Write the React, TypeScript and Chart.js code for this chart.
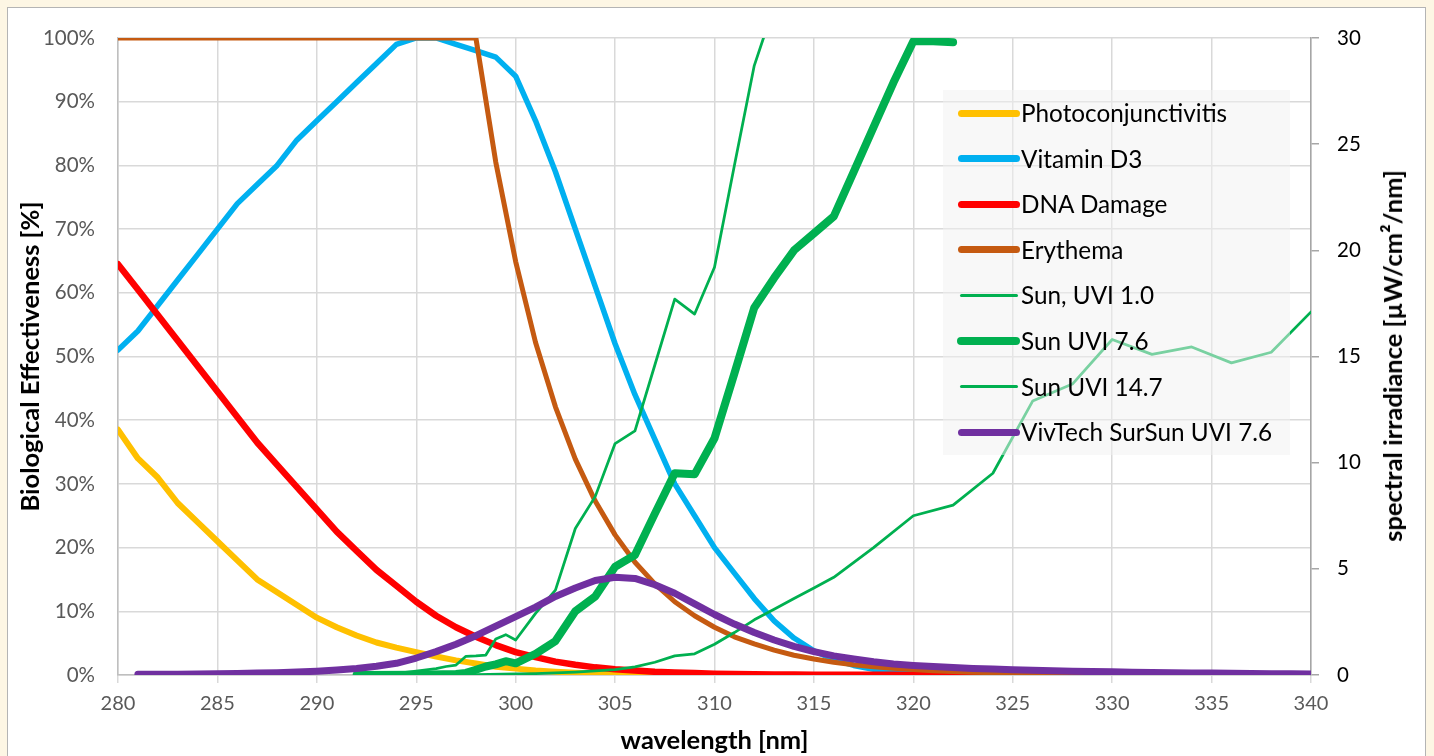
import { useEffect, useRef } from 'react';
import { Chart, registerables } from 'chart.js';

Chart.register(...registerables);

// ---------- data ----------
const wavelengths = [
  280, 281, 282, 283, 284, 285, 286, 287, 288, 289,
  290, 291, 292, 293, 294, 295, 296, 297, 298, 299,
  300, 301, 302, 303, 304, 305, 306, 307, 308, 309,
  310, 311, 312, 313, 314, 315, 316, 317, 318, 319,
  320, 321, 322, 323, 324, 325, 326, 327, 328, 329,
  330, 331, 332, 333, 334, 335, 336, 337, 338, 339, 340,
];

// left axis, %
const photoconjunctivitis = [
  38.5, 34, 31, 27, 24, 21, 18, 15, 13, 11,
  9, 7.5, 6.2, 5.1, 4.3, 3.6, 2.9, 2.3, 1.8, 1.3,
  1.0, 0.7, 0.5, 0.35, 0.25, 0.15, 0.1, 0.07, 0.05, 0.03,
  0.02, 0.01, 0.01, 0, 0, 0, 0, 0, 0, 0,
  0, 0, 0, 0, 0, 0, 0, 0, 0, 0,
  0, 0, 0, 0, 0, 0, 0, 0, 0, 0, 0,
];
const vitaminD3 = [
  51, 54, 58, 62, 66, 70, 74, 77, 80, 84,
  87, 90, 93, 96, 99, 100, 100, 99, 98, 97,
  94, 87, 79, 70, 61, 52, 44, 37, 30, 25,
  20, 16, 12, 8.5, 5.8, 3.8, 2.4, 1.5, 0.9, 0.5,
  0.3, 0.15, 0.1, 0.05, 0, 0, 0, 0, 0, 0,
  0, 0, 0, 0, 0, 0, 0, 0, 0, 0, 0,
];
const dnaDamage = [
  64.5, 60.5, 56.5, 52.5, 48.5, 44.5, 40.5, 36.5, 33, 29.5,
  26, 22.5, 19.5, 16.5, 14, 11.5, 9.3, 7.5, 6, 4.7,
  3.6, 2.8, 2.1, 1.6, 1.2, 0.9, 0.7, 0.5, 0.4, 0.3,
  0.2, 0.15, 0.1, 0.08, 0.06, 0.05, 0.04, 0.03, 0.02, 0.02,
  0.01, 0.01, 0.01, 0, 0, 0, 0, 0, 0, 0,
  0, 0, 0, 0, 0, 0, 0, 0, 0, 0, 0,
];
const erythema = [
  100, 100, 100, 100, 100, 100, 100, 100, 100, 100,
  100, 100, 100, 100, 100, 100, 100, 100, 100, 80.5,
  64.9, 52.2, 42.1, 33.9, 27.3, 22.0, 17.7, 14.3, 11.5, 9.3,
  7.5, 6.0, 4.9, 3.9, 3.1, 2.5, 2.0, 1.6, 1.3, 1.05,
  0.85, 0.68, 0.55, 0.44, 0.36, 0.29, 0.23, 0.19, 0.15, 0.12,
  0.1, 0.09, 0.08, 0.07, 0.06, 0.05, 0.05, 0.04, 0.04, 0.03, 0.03,
];

// right axis, µW/cm²/nm
const vivTech = [
  null, 0.03, 0.03, 0.04, 0.05, 0.06, 0.07, 0.09, 0.11, 0.14,
  0.18, 0.24, 0.31, 0.41, 0.55, 0.8, 1.1, 1.45, 1.85, 2.3,
  2.75, 3.2, 3.7, 4.1, 4.45, 4.6, 4.55, 4.25, 3.85, 3.35,
  2.85, 2.4, 2.0, 1.65, 1.35, 1.1, 0.9, 0.75, 0.62, 0.52,
  0.45, 0.4, 0.35, 0.31, 0.28, 0.25, 0.22, 0.2, 0.18, 0.16,
  0.15, 0.13, 0.12, 0.11, 0.1, 0.09, 0.08, 0.07, 0.06, 0.06, 0.05,
];

const sun1Wl = [
  292, 295, 298, 300, 301, 302, 303, 304, 305, 306,
  307, 308, 309, 310, 311, 312, 313, 314, 315, 316,
  318, 320, 322, 324, 326, 328, 330, 332, 334, 336, 338, 340,
];
const sun1 = [
  0, 0.01, 0.02, 0.05, 0.07, 0.1, 0.14, 0.2, 0.25, 0.38,
  0.6, 0.9, 1.0, 1.45, 2.0, 2.6, 3.1, 3.6, 4.1, 4.6,
  6.0, 7.5, 8.0, 9.5, 12.9, 13.7, 15.8, 15.1, 15.45, 14.7, 15.2, 17.1,
];

const sun76Wl = [
  292, 295, 297, 297.5, 298, 298.5, 299, 299.5, 300, 301,
  302, 303, 304, 305, 306, 307, 308, 309, 310, 311,
  312, 313, 314, 315, 316, 317, 318, 319, 320, 321, 322,
];
const sun76 = [
  0, 0.01, 0.05, 0.1, 0.25, 0.4, 0.5, 0.65, 0.55, 1.0,
  1.6, 3.0, 3.7, 5.1, 5.65, 7.6, 9.5, 9.45, 11.15, 14.2,
  17.3, 18.7, 20.0, 20.8, 21.6, 23.7, 25.8, 27.9, 29.85, 29.85, 29.8,
];

const sun147Wl = [
  292, 293, 294, 295, 296, 296.5, 297, 297.5, 298, 298.5,
  299, 299.5, 300, 301, 302, 303, 304, 305, 306, 307,
  308, 309, 310, 311, 312, 313, 314,
];
const sun147 = [
  0, 0.03, 0.08, 0.18, 0.3, 0.4, 0.47, 0.88, 0.9, 0.94,
  1.7, 1.9, 1.65, 2.9, 4.0, 6.9, 8.4, 10.9, 11.5, 14.6,
  17.7, 17.0, 19.2, 24.0, 28.7, 31.5, 34,
];

const leftTicksLabel = (v: number) => v + '%';

// series styling
const seriesLabels = [
  'Photoconjunctivitis',
  'Vitamin D3',
  'DNA Damage',
  'Erythema',
  'Sun, UVI 1.0',
  'Sun UVI 7.6',
  'Sun UVI 14.7',
  'VivTech SurSun UVI 7.6',
];
const seriesColors = ['#FFC000', '#00B0F0', '#FF0000', '#C55A11', '#00B050', '#00B050', '#00B050', '#7030A0'];
const seriesWidths = [6, 5.5, 6.5, 5, 2.75, 8, 2.75, 7];
const legendWidths = [7, 7, 7, 7, 3, 8, 3, 7];

const FONT = 'Lato, "Noto Sans", sans-serif';

function pts(xs: number[], ys: (number | null)[]) {
  return xs.map((x, i) => ({ x, y: ys[i] }));
}

export default function App() {
  const ref = useRef<HTMLCanvasElement>(null);

  useEffect(() => {
    const canvas = ref.current;
    if (!canvas) return;
    const series = [
      { data: pts(wavelengths, photoconjunctivitis), axis: 'y' },
      { data: pts(wavelengths, vitaminD3), axis: 'y' },
      { data: pts(wavelengths, dnaDamage), axis: 'y' },
      { data: pts(wavelengths, erythema), axis: 'y' },
      { data: pts(sun1Wl, sun1), axis: 'y1' },
      { data: pts(sun76Wl, sun76), axis: 'y1' },
      { data: pts(sun147Wl, sun147), axis: 'y1' },
      { data: pts(wavelengths, vivTech), axis: 'y1' },
    ];
    const n = series.length;
    const chart = new Chart(canvas, {
      type: 'line',
      data: {
        datasets: series.map((s, i) => ({
          label: seriesLabels[i],
          data: s.data as any,
          yAxisID: s.axis,
          borderColor: seriesColors[i],
          backgroundColor: seriesColors[i],
          borderWidth: seriesWidths[i],
          pointRadius: 0,
          tension: 0,
          fill: false,
          spanGaps: false,
          borderCapStyle: 'round',
          borderJoinStyle: 'round',
          order: n - i,
        })),
      },
      options: {
        animation: false,
        responsive: false,
        maintainAspectRatio: false,
        layout: { padding: { left: 0, right: 0, top: 38, bottom: 0 } },
        plugins: { legend: { display: false }, tooltip: { enabled: false } },
        scales: {
          x: {
            type: 'linear',
            min: 280,
            max: 340,
            ticks: { stepSize: 5, color: '#595959', font: { family: FONT, size: 20 }, padding: 9 },
            grid: { color: '#d9d9d9', lineWidth: 1.5, tickLength: 8 },
            border: { color: '#bfbfbf', width: 1.5 },
            title: {
              display: true,
              text: 'wavelength [nm]',
              color: '#000',
              font: { family: FONT, size: 25.5, weight: 'bold' },
              padding: { top: 0, bottom: 0 },
            },
            afterFit: (s: any) => { s.height = 81; },
          },
          y: {
            position: 'left',
            min: 0,
            max: 100,
            ticks: { stepSize: 10, callback: (v: any) => leftTicksLabel(v), color: '#595959', font: { family: FONT, size: 20.5 }, padding: 23 },
            grid: { color: '#d9d9d9', lineWidth: 1.5, drawTicks: false },
            border: { color: '#bfbfbf', width: 1.5 },
            title: {
              display: true,
              text: 'Biological Effectiveness [%]',
              color: '#000',
              font: { family: FONT, size: 25.5, weight: 'bold' },
              padding: { top: 15, bottom: 0 },
            },
            afterFit: (s: any) => { s.width = 118; },
          },
          y1: {
            position: 'right',
            min: 0,
            max: 30,
            ticks: { stepSize: 5, color: '#000', font: { family: FONT, size: 20.5 }, padding: 18 },
            grid: { drawOnChartArea: false, color: '#a6a6a6', lineWidth: 1.5, tickLength: 8 },
            border: { color: '#a6a6a6', width: 1.5 },
            title: { display: false },
            afterFit: (s: any) => { s.width = 123; },
          },
        },
      } as any,
    });
    return () => chart.destroy();
  }, []);

  const rowTop = 113;
  const rowStep = 45.6;

  return (
    <div style={{ position: 'fixed', left: 0, top: 0, width: 1434, height: 756, background: '#FDF6E4', overflow: 'hidden', fontFamily: FONT }}>
      <div style={{ position: 'absolute', left: 7, top: 7, width: 1417, height: 800, border: '1px solid #b4b4b4', background: '#ffffff' }} />
      <canvas ref={ref} width={1434} height={756} style={{ position: 'absolute', left: 0, top: 0, width: 1434, height: 756 }} />
      {/* legend */}
      <div style={{ position: 'absolute', left: 943, top: 90, width: 347, height: 365, background: 'rgba(242,242,242,0.5)' }} />
      {seriesLabels.map((label, i) => (
        <div key={label} style={{ position: 'absolute', left: 0, top: 0 }}>
          <div
            style={{
              position: 'absolute',
              left: 961 - legendWidths[i] / 2,
              top: rowTop + rowStep * i - legendWidths[i] / 2,
              width: 55 + legendWidths[i],
              height: legendWidths[i],
              borderRadius: legendWidths[i] / 2,
              background: seriesColors[i],
            }}
          />
          <div
            style={{
              position: 'absolute',
              left: 1021,
              top: rowTop + rowStep * i - 16,
              height: 32,
              lineHeight: '32px',
              fontSize: 24.3,
              color: '#000',
              whiteSpace: 'nowrap',
            }}
          >
            {label}
          </div>
        </div>
      ))}
      {/* right axis title */}
      <div
        style={{
          position: 'absolute',
          left: 1392,
          top: 356,
          transform: 'translate(-50%, -50%) rotate(-90deg)',
          fontSize: 25.5,
          fontWeight: 'bold',
          color: '#000',
          whiteSpace: 'nowrap',
        }}
      >
        spectral irradiance [µW/cm²/nm]
      </div>
    </div>
  );
}
